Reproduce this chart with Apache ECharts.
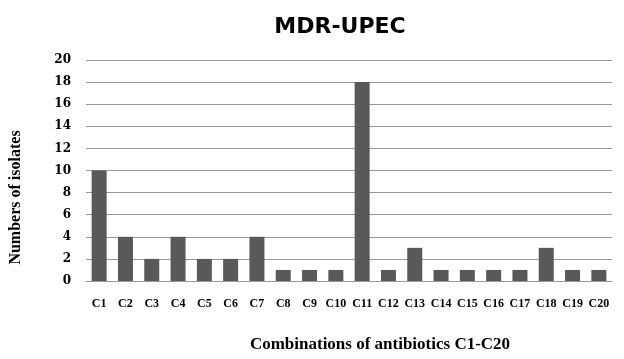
<!DOCTYPE html>
<html><head><meta charset="utf-8">
<script src="https://cdn.jsdelivr.net/npm/echarts@6/dist/echarts.min.js"></script>
<style>html,body{margin:0;padding:0;background:#fff}#c{width:624px;height:359px}</style>
</head><body><div id="c"></div>
<script>
const categories = ["C1","C2","C3","C4","C5","C6","C7","C8","C9","C10","C11","C12","C13","C14","C15","C16","C17","C18","C19","C20"];
const isolates = [10,4,2,4,2,2,4,1,1,1,18,1,3,1,1,1,1,3,1,1];
const chart = echarts.init(document.getElementById('c'));
chart.setOption({
  animation:false,
  backgroundColor:'#fff',
  title:{text:'MDR-UPEC',left:335,textAlign:'center',top:11,textStyle:{fontFamily:'DejaVu Sans',fontWeight:'bold',fontSize:22,color:'#000'}},
  grid:{left:86,right:12,top:60,bottom:78},
  xAxis:{type:'category',data:categories,
    axisLine:{lineStyle:{color:'#999',width:1}},axisTick:{show:false},
    axisLabel:{interval:0,margin:17,fontFamily:'Liberation Serif',fontWeight:'bold',fontSize:12,color:'#000'},
    name:'Combinations of antibiotics C1-C20',nameLocation:'middle',nameGap:55,
    nameTextStyle:{fontFamily:'Liberation Serif',fontWeight:'bold',fontSize:17,color:'#000',padding:[0,0,0,62]}},
  yAxis:{type:'value',min:0,max:20,interval:2,
    axisLine:{show:false},axisTick:{show:false},
    splitLine:{lineStyle:{color:'#999',width:1}},
    axisLabel:{margin:15,fontFamily:'DejaVu Serif',fontWeight:'bold',fontSize:12,color:'#000'},
    name:'Numbers of isolates',nameLocation:'middle',nameGap:62,
    nameTextStyle:{fontFamily:'Liberation Serif',fontWeight:'bold',fontSize:16,color:'#000',padding:[0,0,0,-54]}},
  series:[{type:'bar',data:isolates,barCategoryGap:'43%',itemStyle:{color:'#595959'}}]
});
</script></body></html>
